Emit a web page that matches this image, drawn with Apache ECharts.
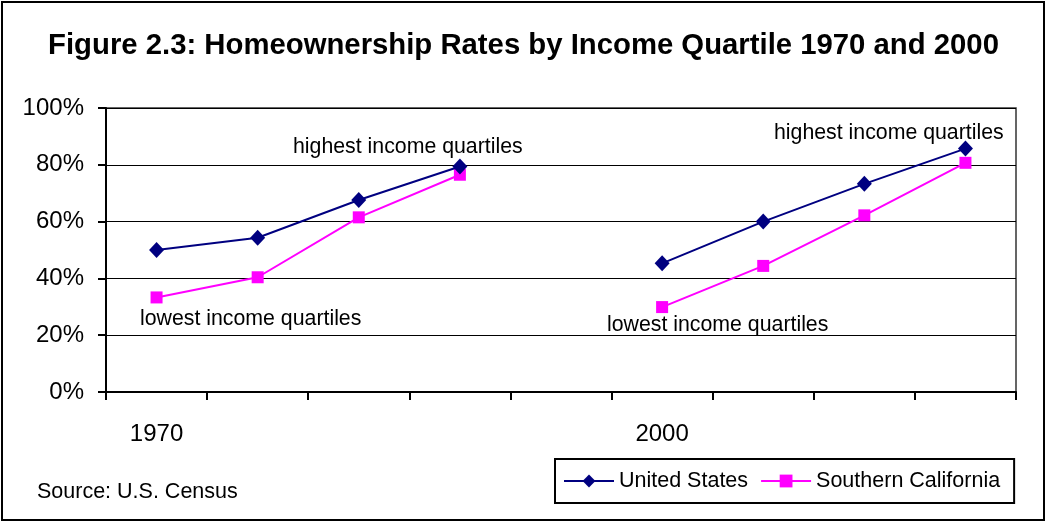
<!DOCTYPE html>
<html>
<head>
<meta charset="utf-8">
<script src="https://cdn.jsdelivr.net/npm/echarts@6/dist/echarts.min.js"></script>
<style>
  html, body { margin: 0; padding: 0; background: #fff; }
  #chart { width: 1047px; height: 523px; }
</style>
</head>
<body>
<div id="chart"></div>
<script>
// Income quartiles (lowest → highest) for 1970, an empty spacer slot, then 2000
const categories = ['1970', '', '', '', '', '2000', '', '', ''];
const unitedStates = [50.0, 54.3, 67.6, 79.4, null, 45.3, 60.0, 73.3, 85.7];
const southernCalifornia = [33.3, 40.4, 61.5, 76.5, null, 29.9, 44.4, 62.2, 80.7];
const yTicks = { min: 0, max: 100, interval: 20 };

const FONT = 'Liberation Sans, Arial, sans-serif';

const chart = echarts.init(document.getElementById('chart'), null, { renderer: 'canvas' });

chart.setOption({
  backgroundColor: '#ffffff',
  animation: false,
  title: {
    text: 'Figure 2.3: Homeownership Rates by Income Quartile 1970 and 2000',
    left: 'center',
    top: 26,
    textStyle: { fontFamily: FONT, fontSize: 29.3, fontWeight: 'bold', color: '#000' }
  },
  grid: {
    left: 106, right: 31, top: 108, bottom: 131,
    show: true, borderColor: '#333', borderWidth: 1.5, backgroundColor: 'transparent'
  },
  legend: {
    left: 555, top: 459,
    orient: 'horizontal',
    padding: [11, 14, 11, 8],
    itemGap: 12,
    itemWidth: 50, itemHeight: 16,
    borderColor: '#000', borderWidth: 2,
    textStyle: { fontFamily: FONT, fontSize: 21.5, color: '#000' },
    data: ['United States', 'Southern California']
  },
  xAxis: {
    type: 'category',
    data: categories,
    boundaryGap: true,
    axisLine: { show: true, lineStyle: { color: '#000', width: 2 } },
    axisTick: { show: true, interval: 0, length: 8, lineStyle: { color: '#000', width: 2 } },
    axisLabel: { interval: 0, margin: 30, fontFamily: FONT, fontSize: 24, color: '#000' },
    splitLine: { show: false }
  },
  yAxis: {
    type: 'value',
    min: yTicks.min, max: yTicks.max, interval: yTicks.interval,
    axisLine: { show: true, lineStyle: { color: '#000', width: 2 } },
    axisTick: { show: true, length: 8, lineStyle: { color: '#000', width: 2 } },
    axisLabel: { margin: 22, formatter: '{value}%', fontFamily: FONT, fontSize: 24, color: '#000' },
    splitLine: { show: true, lineStyle: { color: '#000', width: 1 } }
  },
  series: [
    {
      name: 'United States',
      type: 'line',
      data: unitedStates,
      connectNulls: false,
      symbol: 'diamond',
      symbolSize: [15, 16],
      lineStyle: { color: '#000080', width: 2 },
      itemStyle: { color: '#000080' },
      z: 3
    },
    {
      name: 'Southern California',
      type: 'line',
      data: southernCalifornia,
      connectNulls: false,
      symbol: 'rect',
      symbolSize: 12,
      lineStyle: { color: '#ff00ff', width: 2 },
      itemStyle: { color: '#ff00ff' },
      z: 2
    }
  ],
  graphic: [
    {
      type: 'rect',
      shape: { x: 2, y: 2, width: 1042, height: 518 },
      style: { fill: 'none', stroke: '#000', lineWidth: 2 },
      silent: true
    },
    { type: 'text', x: 293, y: 147, style: { text: 'highest income quartiles', font: '21.3px ' + FONT, fill: '#000', textVerticalAlign: 'middle' } },
    { type: 'text', x: 774, y: 133, style: { text: 'highest income quartiles', font: '21.3px ' + FONT, fill: '#000', textVerticalAlign: 'middle' } },
    { type: 'text', x: 140, y: 319, style: { text: 'lowest income quartiles', font: '21.3px ' + FONT, fill: '#000', textVerticalAlign: 'middle' } },
    { type: 'text', x: 607, y: 325, style: { text: 'lowest income quartiles', font: '21.3px ' + FONT, fill: '#000', textVerticalAlign: 'middle' } },
    { type: 'text', x: 37, y: 492, style: { text: 'Source: U.S. Census', font: '21.5px ' + FONT, fill: '#000', textVerticalAlign: 'middle' } }
  ]
});
</script>
</body>
</html>
